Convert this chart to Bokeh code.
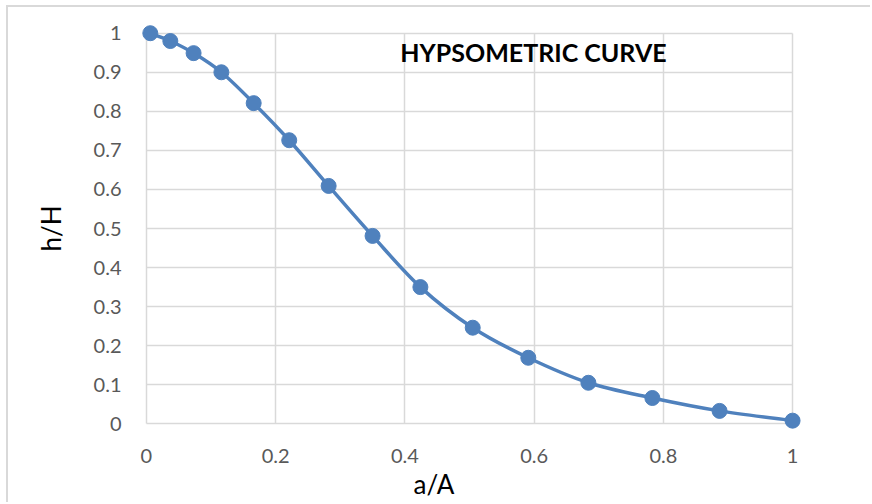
import numpy as np
from bokeh.plotting import figure
from bokeh.models import Range1d, FixedTicker, NumeralTickFormatter, Label, ColumnDataSource, Title
from bokeh.embed import file_html
from bokeh.resources import INLINE

# data
area_ratio = [0.006, 0.037, 0.073, 0.116, 0.166, 0.221, 0.282, 0.350, 0.424,
              0.505, 0.591, 0.684, 0.783, 0.887, 1.000]
height_ratio = [1.000, 0.980, 0.949, 0.900, 0.821, 0.726, 0.609, 0.481, 0.350,
                0.246, 0.169, 0.105, 0.066, 0.033, 0.008]
x_ticks = [0, 0.2, 0.4, 0.6, 0.8, 1.0]
y_ticks = [0, 0.1, 0.2, 0.3, 0.4, 0.5, 0.6, 0.7, 0.8, 0.9, 1.0]
title_text = "HYPSOMETRIC CURVE"
x_title = "a/A"
y_title = "h/H"

BLUE = "#4f81bd"
GRID = "#d9d9d9"
FONT = "Lato"

p = figure(width=864, height=497, output_backend="svg", toolbar_location=None,
           x_range=Range1d(-0.02, 1.02), y_range=Range1d(-0.03, 1.03),
           min_border_left=125, min_border_right=67, min_border_top=14, min_border_bottom=69,
           styles={"border-top": f"2px solid {GRID}", "border-left": f"2px solid {GRID}",
                   "margin-left": "6px", "margin-top": "5px"})
p.outline_line_color = None
p.background_fill_color = "white"
p.border_fill_color = "white"

for ax in (p.xaxis[0], p.yaxis[0]):
    ax.axis_line_color = None
    ax.major_tick_line_color = None
    ax.minor_tick_line_color = None
    ax.major_label_text_font = FONT
    ax.major_label_text_font_size = "20px"
    ax.major_label_text_color = "#595959"
    ax.formatter = NumeralTickFormatter(format="0.[0]")

p.xaxis[0].ticker = FixedTicker(ticks=x_ticks)
p.yaxis[0].ticker = FixedTicker(ticks=y_ticks)
p.xaxis[0].major_label_standoff = 7
p.yaxis[0].major_label_standoff = 6

p.yaxis[0].axis_label = y_title
p.yaxis[0].axis_label_text_font = FONT
p.yaxis[0].axis_label_text_font_style = "normal"
p.yaxis[0].axis_label_text_font_size = "26px"
p.yaxis[0].axis_label_text_color = "black"
p.yaxis[0].axis_label_standoff = 24

p.xgrid[0].ticker = FixedTicker(ticks=x_ticks)
p.ygrid[0].ticker = FixedTicker(ticks=y_ticks)
for g in (p.xgrid[0], p.ygrid[0]):
    g.grid_line_color = GRID
    g.grid_line_width = 1.5
    g.cross_bounds = (0, 1)
    g.bounds = (0, 1)

# smoothed connecting line (Catmull-Rom style Bezier through the data points)
xs = np.array(area_ratio)
ys = np.array(height_ratio)
xp = np.concatenate([[xs[0]], xs, [xs[-1]]])
yp = np.concatenate([[ys[0]], ys, [ys[-1]]])
n = len(xs)
src = ColumnDataSource(dict(
    x0=xs[:-1], y0=ys[:-1], x1=xs[1:], y1=ys[1:],
    cx0=xs[:-1] + (xp[2:n + 1] - xp[0:n - 1]) / 6,
    cy0=ys[:-1] + (yp[2:n + 1] - yp[0:n - 1]) / 6,
    cx1=xs[1:] - (xp[3:n + 2] - xp[1:n]) / 6,
    cy1=ys[1:] - (yp[3:n + 2] - yp[1:n]) / 6,
))
p.bezier(x0="x0", y0="y0", x1="x1", y1="y1", cx0="cx0", cy0="cy0", cx1="cx1", cy1="cy1",
         source=src, line_color=BLUE, line_width=3.5)
p.scatter(area_ratio, height_ratio, size=15, marker="circle",
          fill_color=BLUE, line_color=BLUE)

p.add_layout(Label(x=0.599, y=0.952, text=title_text, text_font=FONT, text_font_style="bold",
                   text_font_size="25px", text_color="black",
                   text_align="center", text_baseline="middle"))
p.add_layout(Title(text=x_title, align="left", offset=280, standoff=0,
                   text_font=FONT, text_font_style="normal", text_font_size="26px",
                   text_color="black"), "below")

open("out.html", "w").write(file_html(p, INLINE))
